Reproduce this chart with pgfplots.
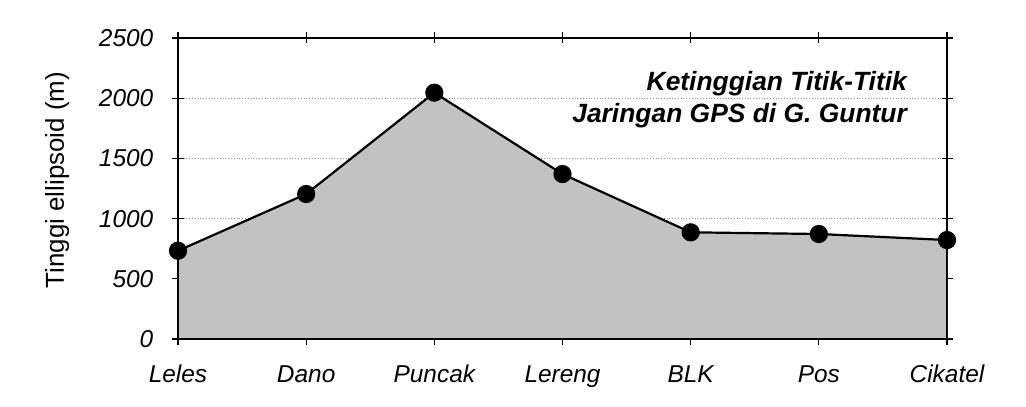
\documentclass[border=0pt]{standalone}
\usepackage{fontspec}
\setmainfont{Liberation Sans}
\usepackage{pgfplots}
\pgfplotsset{compat=1.18}
\begin{document}
\begin{tikzpicture}
\begin{axis}[
  at={(178bp,68bp)}, anchor=south west,
  width=769bp, height=301bp, scale only axis,
  xmin=0, xmax=6, ymin=0, ymax=2500,
  xtick={0,1,2,3,4,5,6},
  xticklabels={Leles,Dano,Puncak,Lereng,BLK,Pos,Cikatel},
  ytick={0,500,1000,1500,2000,2500},
  tick align=center,
  major tick length=11bp,
  tick style={line width=1.2bp, black},
  axis line style={line width=1.8bp},
  ymajorgrids,
  grid style={black!45, line width=0.8bp, dotted},
  /pgf/number format/assume math mode=true,
  /pgf/number format/1000 sep={},
  tick label style={font=\fontsize{24.5}{28}\selectfont\itshape},
  yticklabel style={anchor=east, inner sep=0pt, xshift=-19bp},
  xticklabel style={anchor=base, inner sep=0pt, yshift=-38bp},
  ylabel={Tinggi ellipsoid (m)},
  ylabel style={font=\fontsize{26}{30}\selectfont,
    at={(axis description cs:-0.157,0.528)}, anchor=center},
]
\addplot[draw=none, fill=black!24] coordinates {
  (0,733) (1,1204) (2,2046) (3,1370) (4,886) (5,872) (6,822)
} \closedcycle;
\addplot[black, line width=2.2bp, mark=*, mark size=8bp,
  mark options={fill=black}] coordinates {
  (0,733) (1,1204) (2,2046) (3,1370) (4,886) (5,872) (6,822)
};
% frame redrawn over the filled area
\draw[line width=1.8bp] (rel axis cs:0,0) rectangle (rel axis cs:1,1);
\node[anchor=base east, inner sep=0pt, font=\fontsize{26.5}{30}\selectfont\bfseries\itshape]
  at (axis cs:5.688,2060) {Ketinggian Titik-Titik};
\node[anchor=base east, inner sep=0pt, font=\fontsize{26.5}{30}\selectfont\bfseries\itshape]
  at (axis cs:5.688,1802) {Jaringan GPS di G. Guntur};
\end{axis}
\path (0,0) rectangle (1026bp,407bp);
\end{tikzpicture}
\end{document}
